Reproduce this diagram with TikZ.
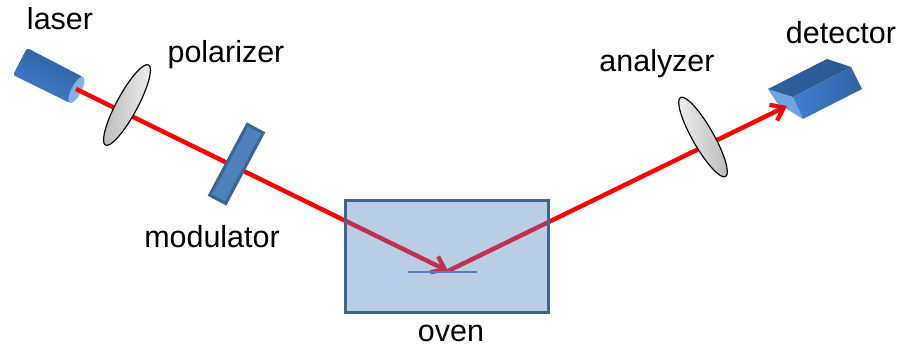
\documentclass[tikz,border=0pt]{standalone}
\usepackage{fontspec}
\setmainfont{Liberation Sans}
\usetikzlibrary{arrows.meta,shapes.geometric}
\definecolor{beamred}{HTML}{FF0000}
\definecolor{beamdim}{HTML}{C2304F}
\definecolor{ovenfill}{HTML}{B9CDE5}
\definecolor{ovenedge}{HTML}{41658F}
\definecolor{modfill}{HTML}{4F81BD}
\definecolor{modedge}{HTML}{3C6496}
\definecolor{mirrorblue}{HTML}{4F81BD}
\definecolor{bodydark}{HTML}{2E5F9E}
\definecolor{bodymid}{HTML}{3F7FCC}
\definecolor{bodylight}{HTML}{6FA3E3}
\definecolor{topdark}{HTML}{2C5A92}

\begin{document}
\begin{tikzpicture}[
  x=0.03cm,
  y=-0.03cm,
  label/.style={font=\fontsize{26pt}{28pt}\selectfont, anchor=base, inner sep=0pt},
  beam/.style={line width=3.8pt, draw=beamred},
  beamarr/.style={beam, -{Straight Barb[length=10pt, width=15pt, line width=3.6pt]}},
  lens/.style={ellipse, draw=black, line width=1pt, minimum width=91*0.03cm, minimum height=21*0.03cm, inner sep=0pt},
  modulator/.style={draw=modedge, line width=2.6pt, fill=modfill, minimum width=80*0.03cm, minimum height=18*0.03cm, inner sep=0pt},
  oven/.style={fill=ovenfill, minimum width=203*0.03cm, minimum height=112*0.03cm, inner sep=0pt}
]
\useasboundingbox (0,0) rectangle (899,347);

% beam anchors
\coordinate (laserout) at (76,89);
\coordinate (spot) at (448,271);
\coordinate (detin) at (787,106);

% laser and detector
\path[left color=bodydark, right color=bodymid, shading angle=-25, rounded corners=2pt]
  (27,48) -- (83,77) -- (70,103) -- (13,75) -- cycle;
\node[ellipse, fill=bodylight!85!white, minimum width=29*0.03cm, minimum height=10*0.03cm, inner sep=0pt, rotate=63] (laserend) at (76.5,90) {};

\fill[bodylight] (768,89) -- (793,97) -- (803,119) -- (777,103) -- cycle;
\path[left color=bodydark, right color=topdark] (768,89) -- (827,59) -- (851,67) -- (793,97) -- cycle;
\path[left color=bodymid, right color=bodydark!90!bodymid] (793,97) -- (851,67) -- (862,89) -- (803,119) -- cycle;

% beam
\draw[beamarr] (laserout) -- (spot);
\draw[beamarr] (spot) -- (detin);

% optics
\node[lens, rotate=61.7, left color=gray!55, right color=gray!12] (polarizer) at (127,105) {};
\node[modulator, rotate=62] (mod) at (236.5,164) {};
\node[lens, rotate=-60.3, left color=gray!12, right color=gray!55] (analyzer) at (703,137) {};

\node[oven] (ovenbox) at (447,256.5) {};
\begin{scope}
  \clip (ovenbox.south west) rectangle (ovenbox.north east);
  \draw[beamarr, draw=beamdim] (laserout) -- (spot);
  \draw[beam, draw=beamdim] (spot) -- (detin);
\end{scope}
\draw[ovenedge, line width=2.6pt] (ovenbox.south west) rectangle (ovenbox.north east);
\draw[mirrorblue, line width=1pt] (408,272) -- (477,272);

% labels
\node[label] (laserlabel) at (60,30) {laser};
\node[label] (polarizerlabel) at (226,63) {polarizer};
\node[label] (modlabel) at (212,248) {modulator};
\node[label] (ovenlabel) at (451,341) {oven};
\node[label] (analyzerlabel) at (657,72) {analyzer};
\node[label] (detectorlabel) at (841,44) {detector};
\end{tikzpicture}
\end{document}
